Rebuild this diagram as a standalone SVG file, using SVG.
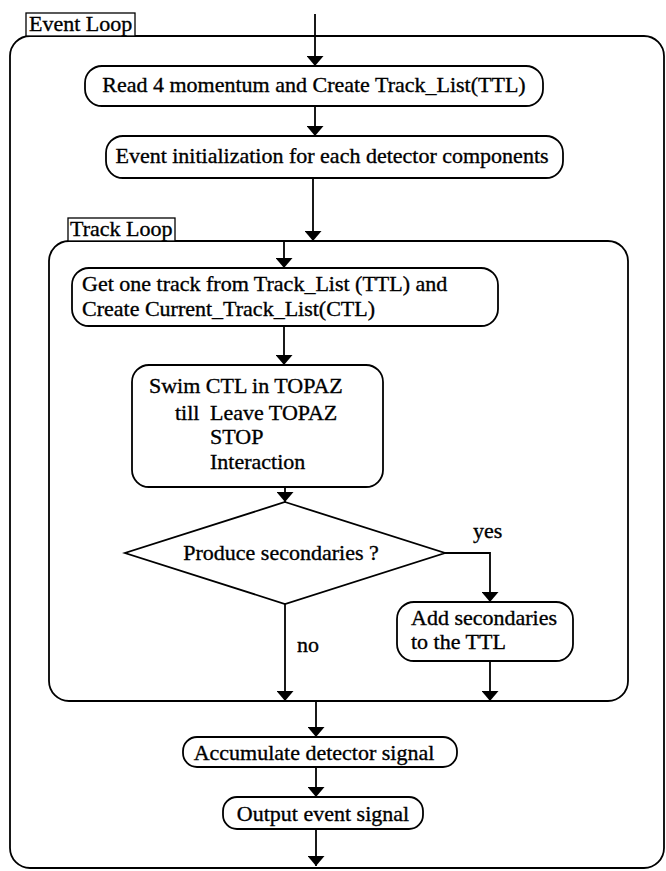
<svg xmlns="http://www.w3.org/2000/svg" width="666" height="871" viewBox="0 0 666 871">
  <style>
    .box { fill: none; stroke: #000; stroke-width: 1.8; }
    .node { fill: #fff; stroke: #000; stroke-width: 1.8; }
    .lbl { fill: #fff; stroke: #000; stroke-width: 1.3; }
    .t { font-family: "Liberation Serif", "Times New Roman", serif; font-size: 22px; fill: #000; stroke: #000; stroke-width: 0.35; }
    .edge { fill: none; stroke: #000; stroke-width: 1.8; }
  </style>
  <defs>
    <marker id="arrow" viewBox="0 0 10 17" refX="10" refY="8.5" markerWidth="10" markerHeight="17" markerUnits="userSpaceOnUse" orient="auto">
      <path d="M0,0 L10,8.5 L0,17 Z" fill="#000"/>
    </marker>
  </defs>
  <rect width="666" height="871" fill="#fff"/>

  <!-- outer loop frame -->
  <g id="event-loop">
    <rect class="box" x="10" y="36" width="654" height="832" rx="20" ry="20"/>
    <rect class="lbl" x="26" y="13" width="109" height="23"/>
    <text class="t" x="29" y="31">Event Loop</text>
  </g>

  <!-- inner loop frame -->
  <g id="track-loop">
    <rect class="box" x="49" y="241" width="579" height="460" rx="20" ry="20"/>
    <rect class="lbl" x="68" y="218" width="107" height="23"/>
    <text class="t" x="70" y="236">Track Loop</text>
  </g>

  <g id="read">
    <rect class="node" x="85" y="66" width="458" height="40" rx="17" ry="17"/>
    <text class="t" x="314" y="92" text-anchor="middle">Read 4 momentum and Create Track_List(TTL)</text>
  </g>

  <g id="init">
    <rect class="node" x="106" y="136" width="457" height="42" rx="17" ry="17"/>
    <text class="t" x="332" y="163" text-anchor="middle">Event initialization for each detector components</text>
  </g>

  <g id="get-track">
    <rect class="node" x="72" y="268" width="426" height="58" rx="17" ry="17"/>
    <text class="t" x="82" y="291">Get one track from Track_List (TTL) and</text>
    <text class="t" x="82" y="316">Create Current_Track_List(CTL)</text>
  </g>

  <g id="swim">
    <rect class="node" x="132" y="365" width="251" height="122" rx="17" ry="17"/>
    <text class="t" x="149" y="393">Swim CTL in TOPAZ</text>
    <text class="t" x="175" y="420">till</text>
    <text class="t" x="210" y="420">Leave TOPAZ</text>
    <text class="t" x="210" y="444">STOP</text>
    <text class="t" x="210" y="469">Interaction</text>
  </g>

  <g id="decision">
    <polygon class="node" points="285,502 445,553 285,604 125,553"/>
    <text class="t" x="281" y="560" text-anchor="middle">Produce secondaries ?</text>
  </g>

  <g id="add">
    <rect class="node" x="397" y="602" width="176" height="59" rx="17" ry="17"/>
    <text class="t" x="411" y="625">Add secondaries</text>
    <text class="t" x="411" y="649">to the TTL</text>
  </g>

  <g id="accumulate">
    <rect class="node" x="183" y="737" width="274" height="30" rx="14" ry="14"/>
    <text class="t" x="314" y="760" text-anchor="middle">Accumulate detector signal</text>
  </g>

  <g id="output">
    <rect class="node" x="223" y="797" width="200" height="32" rx="14" ry="14"/>
    <text class="t" x="323" y="821" text-anchor="middle">Output event signal</text>
  </g>

  <!-- connectors -->
  <g id="connectors">
    <line class="edge" x1="315" y1="14" x2="315" y2="66" marker-end="url(#arrow)"/>
    <line class="edge" x1="315" y1="106" x2="315" y2="136" marker-end="url(#arrow)"/>
    <line class="edge" x1="313" y1="178" x2="313" y2="241" marker-end="url(#arrow)"/>
    <line class="edge" x1="284" y1="241" x2="284" y2="268" marker-end="url(#arrow)"/>
    <line class="edge" x1="284" y1="326" x2="284" y2="365" marker-end="url(#arrow)"/>
    <line class="edge" x1="285" y1="487" x2="285" y2="502" marker-end="url(#arrow)"/>
    <polyline class="edge" points="445,553 490,553 490,602" marker-end="url(#arrow)"/>
    <text class="t" x="473" y="538">yes</text>
    <line class="edge" x1="285" y1="604" x2="285" y2="701" marker-end="url(#arrow)"/>
    <text class="t" x="297" y="652">no</text>
    <line class="edge" x1="490" y1="661" x2="490" y2="701" marker-end="url(#arrow)"/>
    <line class="edge" x1="316" y1="701" x2="316" y2="737" marker-end="url(#arrow)"/>
    <line class="edge" x1="316" y1="767" x2="316" y2="797" marker-end="url(#arrow)"/>
    <line class="edge" x1="316" y1="829" x2="316" y2="866" marker-end="url(#arrow)"/>
  </g>
</svg>
